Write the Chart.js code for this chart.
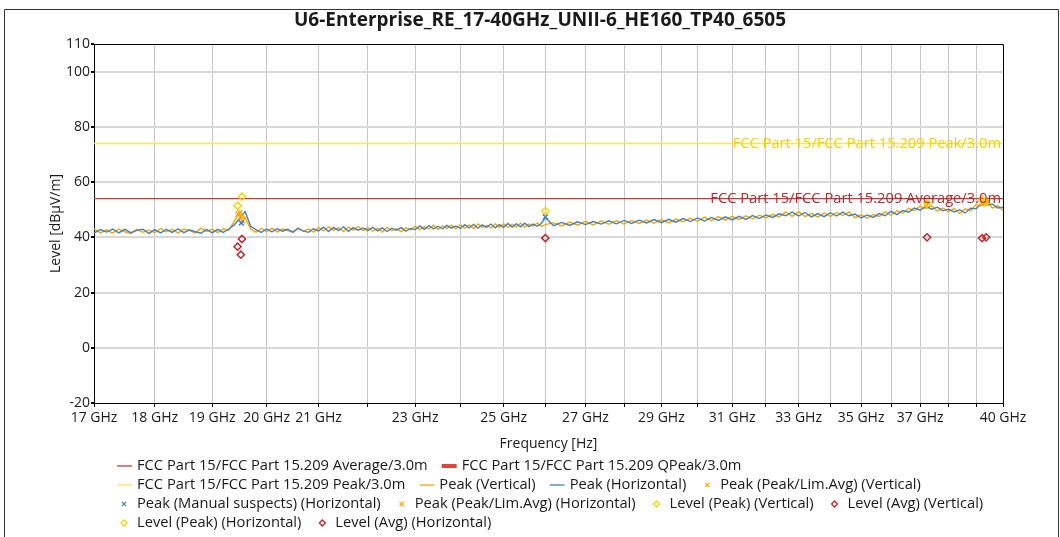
<!DOCTYPE html>
<html>
<head>
<meta charset="utf-8">
<script src="https://cdn.jsdelivr.net/npm/chart.js@4.4.0/dist/chart.umd.min.js"></script>
<style>
  html, body { margin: 0; padding: 0; background: #fff; }
</style>
</head>
<body>
<canvas id="emiChart" width="1060" height="537"></canvas>
<script>
// sweep frequencies in GHz
var freqGHz = [
  17.0,17.1,17.2,17.3,17.4,17.5,17.6,17.7,17.8,17.9,
  18.0,18.1,18.2,18.3,18.4,18.5,18.6,18.7,18.8,18.9,
  19.0,19.1,19.2,19.3,19.4,19.5,19.6,19.7,19.8,19.9,
  20.0,20.1,20.2,20.3,20.4,20.5,20.6,20.7,20.8,20.9,
  21.0,21.1,21.2,21.3,21.4,21.5,21.6,21.7,21.8,21.9,
  22.0,22.1,22.2,22.3,22.4,22.5,22.6,22.7,22.8,22.9,
  23.0,23.1,23.2,23.3,23.4,23.5,23.6,23.7,23.8,23.9,
  24.0,24.1,24.2,24.3,24.4,24.5,24.6,24.7,24.8,24.9,
  25.0,25.1,25.2,25.3,25.4,25.5,25.6,25.7,25.8,25.9,
  26.0,
  26.2,26.4,26.6,26.8,27.0,27.2,27.4,27.6,27.8,28.0,
  28.2,28.4,28.6,28.8,29.0,29.2,29.4,29.6,29.8,30.0,
  30.2,30.4,30.6,30.8,31.0,31.2,31.4,31.6,31.8,32.0,
  32.2,32.4,32.6,32.8,33.0,33.2,33.4,33.6,33.8,34.0,
  34.2,34.4,34.6,34.8,35.0,35.2,35.4,35.6,35.8,36.0,
  36.2,36.4,36.6,36.8,37.0,37.2,37.4,37.6,37.8,38.0,
  38.2,38.4,38.6,38.8,39.0,39.2,39.4,39.6,39.8,40.0
];

// Peak (Vertical) trace, dBuV/m
var peakVertical = [
  43.1,41.6,42.7,41.5,43.0,42.0,41.4,42.9,41.8,42.6,
  41.7,43.2,42.0,42.9,41.5,43.0,42.4,41.6,43.3,42.1,
  42.9,41.7,43.1,42.6,45.8,49.2,47.0,43.0,41.9,43.2,
  42.0,43.3,41.9,43.1,42.4,41.8,43.4,42.2,43.0,41.9,
  43.6,42.3,43.8,42.5,43.4,42.1,43.7,42.6,43.9,42.4,
  43.5,42.2,43.3,41.9,43.6,42.4,43.1,42.0,43.4,42.7,
  44.0,42.8,43.9,43.0,44.3,42.9,44.1,43.2,44.4,43.1,
  44.6,43.3,44.5,43.2,44.8,43.6,44.3,43.4,44.9,43.5,
  44.9,43.6,44.7,43.8,45.1,43.7,44.8,44.0,45.2,43.9,
  44.6,
  45.3,44.1,45.5,44.4,45.8,44.5,45.9,44.7,46.0,44.8,
  46.1,45.0,46.3,45.1,46.4,45.2,46.6,45.6,46.9,45.8,
  47.3,46.0,47.5,46.2,47.6,46.4,47.8,46.6,48.0,47.0,
  48.3,47.4,49.2,47.6,49.3,47.5,48.7,47.3,48.8,47.6,
  49.0,47.9,49.2,47.0,48.2,46.9,48.3,47.5,49.3,47.9,
  49.6,48.7,50.5,49.6,51.3,50.4,51.4,49.5,50.6,49.3,
  50.4,48.6,50.3,49.6,51.9,51.4,52.9,50.6,51.5,49.8
];

// Peak (Horizontal) trace, dBuV/m
var peakHorizontal = [
  41.5,42.8,41.9,43.0,41.6,42.9,41.7,42.5,42.9,41.4,
  42.8,41.6,42.9,41.8,43.1,41.7,42.7,42.0,41.5,42.9,
  41.6,42.9,41.8,43.0,44.5,47.0,49.3,44.0,42.8,41.8,
  43.0,42.0,43.1,42.2,42.9,41.9,43.2,42.3,41.8,43.1,
  42.3,43.7,42.1,43.6,42.4,43.8,42.2,43.5,42.6,43.4,
  42.4,43.6,42.3,43.4,42.1,43.3,42.6,43.5,42.2,43.2,
  42.8,44.1,42.9,44.2,43.0,44.0,43.1,44.3,43.3,44.1,
  43.2,44.6,43.4,44.7,43.3,44.5,43.6,44.8,43.4,44.6,
  43.6,45.0,43.7,44.9,43.8,45.1,43.9,44.8,44.0,45.0,
  47.2,
  44.2,45.4,44.3,45.6,44.6,45.7,44.8,46.0,44.9,46.1,
  45.0,46.2,45.2,46.4,45.3,46.5,45.5,46.8,45.7,47.0,
  45.9,47.2,46.1,47.4,46.3,47.6,46.5,47.9,46.8,48.1,
  47.2,48.5,47.8,49.1,47.7,49.0,47.4,48.6,47.5,48.9,
  47.7,49.1,47.8,48.4,47.0,48.1,47.2,48.6,47.8,49.4,
  48.2,49.7,49.1,50.6,49.8,51.2,50.2,50.9,49.6,50.2,
  49.2,50.0,48.8,50.5,50.3,52.2,51.7,52.1,50.6,50.9
];

// limit lines
var limitFreq = [17, 40];
var avgLimit = [54, 54];
var peakLimit = [74, 74];

// final measurement markers
var pkLimAvgVertFreq = [19.50, 19.52, 37.24, 39.30];
var pkLimAvgVertLevel = [49.0, 47.6, 52.0, 52.6];
var manualHorFreq = [19.53, 26.00];
var manualHorLevel = [45.2, 47.4];
var pkLimAvgHorFreq = [19.47, 19.55, 39.22];
var pkLimAvgHorLevel = [48.3, 46.0, 52.1];
var lvlPeakVertFreq = [19.54, 37.24, 39.22];
var lvlPeakVertLevel = [54.7, 52.2, 53.5];
var lvlAvgVertFreq = [19.54, 37.24, 39.22];
var lvlAvgVertLevel = [39.4, 40.0, 39.7];
var lvlPeakHorFreq = [19.46, 26.00, 39.37];
var lvlPeakHorLevel = [51.4, 49.5, 52.8];
var lvlAvgHorFreq = [19.46, 19.52, 26.00, 39.37];
var lvlAvgHorLevel = [36.6, 33.7, 39.7, 40.0];

// axis ticks
var xGridTicks = [17,18,19,20,21,22,23,24,25,26,27,28,29,30,31,32,33,34,35,36,37,38,39,40];
var xTickLabels = [17,18,19,20,21,23,25,27,29,31,33,35,37,40];
var yTicks = [-20, 0, 20, 40, 60, 80, 100, 110];

var chartTitle = 'U6-Enterprise_RE_17-40GHz_UNII-6_HE160_TP40_6505';

function pts(xs, ys) {
  return xs.map(function (x, i) { return { x: x, y: ys[i] }; });
}

var FONT = '"Open Sans", "Noto Sans", sans-serif';
Chart.defaults.font.family = FONT;
Chart.defaults.font.size = 14;
Chart.defaults.color = '#1a1a1a';

function lineSet(label, xs, ys, color, width, order) {
  return {
    label: label, data: pts(xs, ys), showLine: true, borderColor: color,
    backgroundColor: color, borderWidth: width, pointRadius: 0, tension: 0, order: order,
    legendKind: 'line'
  };
}
function markSet(label, xs, ys, color, style, order) {
  return {
    label: label, data: pts(xs, ys), showLine: false, borderColor: color,
    backgroundColor: 'rgba(255,255,255,0)', pointStyle: style, pointRadius: 3.6,
    pointBorderWidth: 1.5, pointBorderColor: color, pointBackgroundColor: 'rgba(255,255,255,0)',
    order: order, legendKind: style
  };
}

var datasets = [
  lineSet('FCC Part 15/FCC Part 15.209 Average/3.0m', limitFreq, avgLimit, '#c23b3b', 1.3, 5),
  lineSet('FCC Part 15/FCC Part 15.209 QPeak/3.0m', [], [], '#e0443a', 4, 5),
  lineSet('FCC Part 15/FCC Part 15.209 Peak/3.0m', limitFreq, peakLimit, '#ffe35a', 1.5, 5),
  lineSet('Peak (Vertical)', freqGHz, peakVertical, '#ffa500', 1.4, 8),
  lineSet('Peak (Horizontal)', freqGHz, peakHorizontal, '#4682b4', 1.4, 7),
  markSet('Peak (Peak/Lim.Avg) (Vertical)', pkLimAvgVertFreq, pkLimAvgVertLevel, '#ffa500', 'crossRot', 1),
  markSet('Peak (Manual suspects) (Horizontal)', manualHorFreq, manualHorLevel, '#4682b4', 'crossRot', 1),
  markSet('Peak (Peak/Lim.Avg) (Horizontal)', pkLimAvgHorFreq, pkLimAvgHorLevel, '#ffa500', 'crossRot', 1),
  markSet('Level (Peak) (Vertical)', lvlPeakVertFreq, lvlPeakVertLevel, '#ffd000', 'rectRot', 0),
  markSet('Level (Avg) (Vertical)', lvlAvgVertFreq, lvlAvgVertLevel, '#c0282d', 'rectRot', 0),
  markSet('Level (Peak) (Horizontal)', lvlPeakHorFreq, lvlPeakHorLevel, '#ffd000', 'rectRot', 0),
  markSet('Level (Avg) (Horizontal)', lvlAvgHorFreq, lvlAvgHorLevel, '#c0282d', 'rectRot', 0)
];

// legend rows as in the original report (dataset indices)
var legendRows = [[0, 1], [2, 3, 4, 5], [6, 7, 8, 9], [10, 11]];

var decorPlugin = {
  id: 'decor',
  afterDraw: function (chart) {
    var ctx = chart.ctx, a = chart.chartArea;
    var yS = chart.scales.y;
    ctx.save();

    // page frame
    ctx.strokeStyle = '#333';
    ctx.lineWidth = 1;
    ctx.beginPath();
    ctx.moveTo(4.5, 537); ctx.lineTo(4.5, 9.5); ctx.lineTo(1058.5, 9.5); ctx.lineTo(1058.5, 537);
    ctx.stroke();

    // plot box top and right
    ctx.strokeStyle = '#000';
    ctx.beginPath();
    ctx.moveTo(Math.round(a.left), Math.round(a.top) + 0.5);
    ctx.lineTo(Math.round(a.right) + 0.5, Math.round(a.top) + 0.5);
    ctx.lineTo(Math.round(a.right) + 0.5, Math.round(a.bottom));
    ctx.stroke();

    // title
    ctx.fillStyle = '#1a1a1a';
    ctx.font = 'bold 19px ' + FONT;
    ctx.textAlign = 'center';
    ctx.textBaseline = 'middle';
    ctx.fillText(chartTitle, 540, 21);

    // limit line labels
    ctx.font = '14.7px ' + FONT;
    ctx.textAlign = 'right';
    ctx.fillStyle = '#f5d000';
    ctx.fillText(datasets[2].label, a.right - 2, yS.getPixelForValue(peakLimit[1]));
    ctx.fillStyle = '#b52a2e';
    ctx.fillText(datasets[0].label, a.right - 2, yS.getPixelForValue(avgLimit[1]));

    // legend
    ctx.textAlign = 'left';
    legendRows.forEach(function (row, r) {
      var x = 117, y = 466 + r * 19;
      row.forEach(function (idx) {
        var ds = chart.data.datasets[idx];
        ctx.strokeStyle = ds.borderColor;
        if (ds.legendKind === 'line') {
          ctx.lineWidth = ds.borderWidth > 2 ? 4 : 1.3;
          ctx.beginPath();
          ctx.moveTo(x, y); ctx.lineTo(x + 15, y);
          ctx.stroke();
        } else {
          ctx.lineWidth = 1.3;
          ctx.fillStyle = '#fff';
          Chart.helpers.drawPoint(ctx, { pointStyle: ds.legendKind, radius: 3, borderWidth: 1.3, rotation: 0 }, x + 7, y);
        }
        ctx.fillStyle = '#1a1a1a';
        ctx.fillText(ds.label, x + 20, y);
        x += 20 + ctx.measureText(ds.label).width + 14;
      });
    });
    ctx.restore();
  }
};

new Chart(document.getElementById('emiChart'), {
  type: 'scatter',
  data: { datasets: datasets },
  options: {
    responsive: false,
    animation: false,
    devicePixelRatio: 1,
    layout: { padding: { left: 40, right: 57, top: 44, bottom: 85 } },
    plugins: {
      legend: { display: false },
      title: { display: false },
      tooltip: { enabled: false }
    },
    scales: {
      x: {
        type: 'logarithmic',
        min: 17,
        max: 40,
        afterBuildTicks: function (scale) {
          scale.ticks = xGridTicks.map(function (v) { return { value: v }; });
        },
        afterFit: function (scale) { scale.height = 49; },
        ticks: {
          autoSkip: false, maxRotation: 0, minRotation: 0, padding: 3,
          callback: function (v) { return xTickLabels.indexOf(v) >= 0 ? v + ' GHz' : ''; }
        },
        grid: {
          color: function (c) {
            if (c.tick && (c.tick.value === 17 || c.tick.value === 40)) return 'rgba(0,0,0,0)';
            return '#c6c6c6';
          },
          lineWidth: 1, tickLength: 4, tickColor: '#000'
        },
        border: { color: '#000', width: 1 },
        title: { display: true, text: 'Frequency [Hz]', padding: { top: 3, bottom: 0 }, font: { size: 14 } }
      },
      y: {
        min: -20,
        max: 110,
        afterBuildTicks: function (scale) {
          scale.ticks = yTicks.map(function (v) { return { value: v }; });
        },
        afterFit: function (scale) { scale.width = 54; },
        ticks: { padding: 1 },
        grid: {
          color: function (c) {
            if (c.tick && (c.tick.value === -20 || c.tick.value === 110)) return 'rgba(0,0,0,0)';
            return '#d8d8d8';
          },
          lineWidth: 2, tickLength: 3, tickColor: '#000'
        },
        border: { color: '#000', width: 1 },
        title: { display: true, text: 'Level [dBµV/m]', padding: { top: 8, bottom: 0 }, font: { size: 14 } }
      }
    }
  },
  plugins: [decorPlugin]
});
</script>
</body>
</html>
